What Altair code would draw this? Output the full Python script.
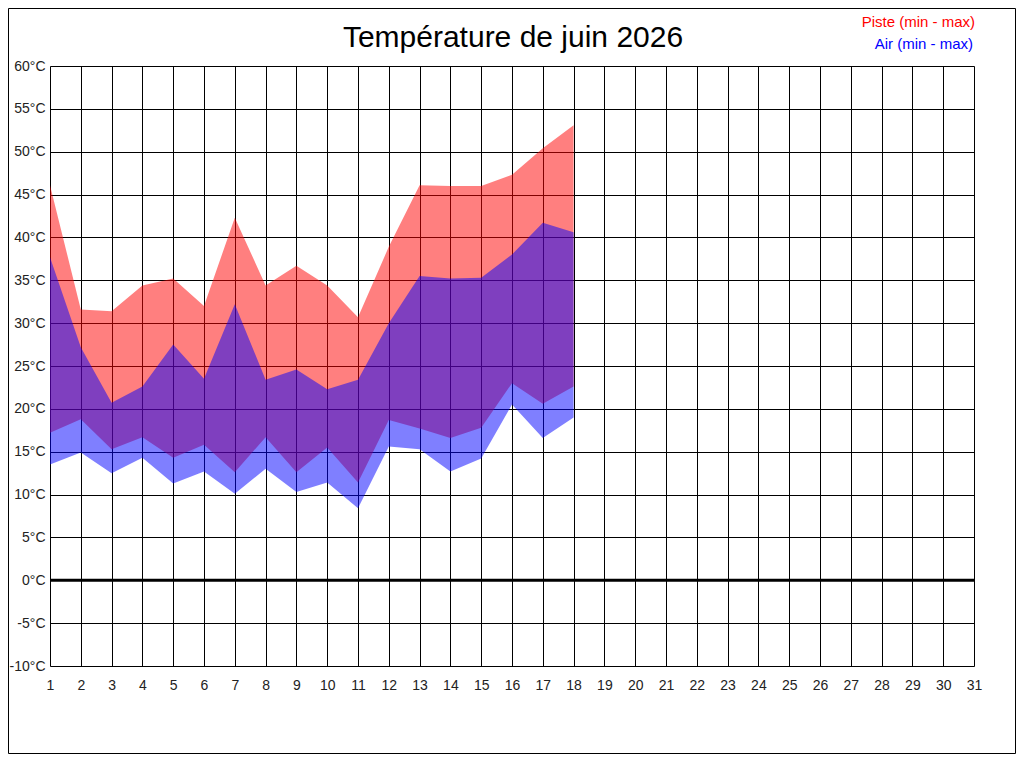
import altair as alt
import pandas as pd

# ---- data ----
days = list(range(1, 19))
piste_min = [17.2, 18.8, 15.3, 16.7, 14.3, 15.8, 12.6, 16.7, 12.6, 15.5, 11.4, 18.7, 17.7, 16.6, 17.8, 23.0, 20.6, 22.6]
piste_max = [46.1, 31.6, 31.4, 34.4, 35.2, 32.0, 42.3, 34.4, 36.7, 34.4, 30.7, 38.9, 46.1, 46.0, 46.0, 47.3, 50.4, 53.1]
air_min = [13.5, 14.9, 12.5, 14.3, 11.3, 12.7, 10.1, 13.0, 10.3, 11.4, 8.4, 15.6, 15.3, 12.7, 14.2, 20.5, 16.6, 19.0]
air_max = [37.7, 27.2, 20.7, 22.6, 27.5, 23.5, 32.2, 23.4, 24.6, 22.3, 23.4, 30.0, 35.5, 35.2, 35.3, 38.0, 41.7, 40.6]

day_ticks = list(range(1, 32))
temp_ticks = list(range(-10, 61, 5))
title_text = "Température de juin 2026"
legend_labels = ["Piste (min - max)", "Air (min - max)"]
legend_colors = ["#ff0000", "#0000ff"]

df = pd.DataFrame({
    "jour": days,
    "piste_min": piste_min,
    "piste_max": piste_max,
    "air_min": air_min,
    "air_max": air_max,
})

FONT = "Liberation Sans"

x_enc = alt.X(
    "jour:Q",
    scale=alt.Scale(domain=[1, 31], nice=False, zero=False),
    axis=alt.Axis(
        values=day_ticks, title=None, grid=True, gridColor="black", gridOpacity=1,
        gridWidth=1, domain=False, ticks=False, labelFont=FONT, labelFontSize=14,
        labelColor="#222222", labelPadding=12, format="d", labelFlush=False,
    ),
)
y_scale = alt.Scale(domain=[-10, 60], nice=False, zero=False)
y_axis = alt.Axis(
    values=temp_ticks, title=None, grid=True, gridColor="black", gridOpacity=1,
    gridWidth=1, domain=False, ticks=False, labelFont=FONT, labelFontSize=14,
    labelColor="#222222", labelPadding=5, labelExpr="datum.value + '°C'",
)

base = alt.Chart(df)

piste = base.mark_area(color=legend_colors[0], opacity=0.5).encode(
    x=x_enc,
    y=alt.Y("piste_min:Q", scale=y_scale, axis=y_axis),
    y2="piste_max:Q",
)
air = base.mark_area(color=legend_colors[1], opacity=0.5).encode(
    x=x_enc,
    y=alt.Y("air_min:Q", scale=y_scale, axis=y_axis),
    y2="air_max:Q",
)

zero = alt.Chart(pd.DataFrame({"t": [0]})).mark_rule(color="black", strokeWidth=3).encode(
    y=alt.Y("t:Q", scale=y_scale, axis=y_axis)
)

title = alt.Chart(pd.DataFrame({"l": [title_text]})).mark_text(
    align="center", baseline="alphabetic", font=FONT, fontSize=30, color="black"
).encode(text="l:N", x=alt.value(463), y=alt.value(-19))

leg1 = alt.Chart(pd.DataFrame({"l": [legend_labels[0]]})).mark_text(
    align="right", baseline="middle", font=FONT, fontSize=15, color=legend_colors[0]
).encode(text="l:N", x=alt.value(925), y=alt.value(-44))
leg2 = alt.Chart(pd.DataFrame({"l": [legend_labels[1]]})).mark_text(
    align="right", baseline="middle", font=FONT, fontSize=15, color=legend_colors[1]
).encode(text="l:N", x=alt.value(923), y=alt.value(-22))

frame = alt.Chart(pd.DataFrame({"f": [0]})).mark_rect(
    fill=None, stroke="black", strokeWidth=1
).encode(
    x=alt.value(-41.5), x2=alt.value(965.5), y=alt.value(-57.5), y2=alt.value(687.5)
)

chart = alt.layer(piste, air, zero, title, leg1, leg2, frame).properties(
    width=924,
    height=600,
    autosize=alt.AutoSizeParams(type="none"),
    padding={"left": 42, "right": 42, "top": 58, "bottom": 88},
).configure_view(stroke="black", strokeWidth=1).configure(background="white")

chart.save("out.html", embed_options={"renderer": "svg", "actions": False})
